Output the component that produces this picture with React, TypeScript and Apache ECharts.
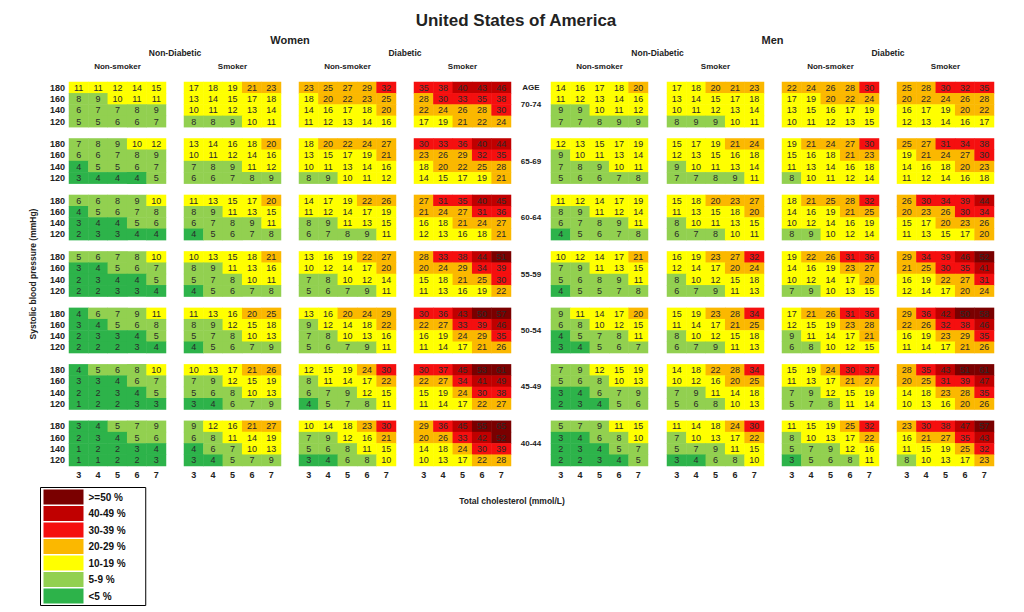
import React, { useEffect, useRef } from "react";
import * as echarts from "echarts";

// Age groups, top to bottom
const ages = ["70-74", "65-69", "60-64", "55-59", "50-54", "45-49", "40-44"];
// Systolic blood pressure rows within each age block (mmHg)
const sbpLevels = [180, 160, 140, 120];
// Total cholesterol columns (mmol/L)
const cholLevels = [3, 4, 5, 6, 7];

// 10-year risk (%) per age block: rows = SBP 180..120, columns = cholesterol 3..7
const womenNonDiabeticNonSmoker = [
  [[11, 11, 12, 14, 15], [8, 9, 10, 11, 11], [6, 7, 7, 8, 9], [5, 5, 6, 6, 7]],
  [[7, 8, 9, 10, 12], [6, 6, 7, 8, 9], [4, 5, 5, 6, 7], [3, 4, 4, 4, 5]],
  [[6, 6, 8, 9, 10], [4, 5, 6, 7, 8], [3, 4, 4, 5, 6], [2, 3, 3, 4, 4]],
  [[5, 6, 7, 8, 10], [3, 4, 5, 6, 7], [2, 3, 4, 4, 5], [2, 2, 3, 3, 4]],
  [[4, 6, 7, 9, 11], [3, 4, 5, 6, 8], [2, 3, 3, 4, 5], [2, 2, 2, 3, 4]],
  [[4, 5, 6, 8, 10], [3, 3, 4, 6, 7], [2, 2, 3, 4, 5], [1, 2, 2, 3, 3]],
  [[3, 4, 5, 7, 9], [2, 3, 4, 5, 6], [1, 2, 2, 3, 4], [1, 1, 2, 2, 3]],
];
const womenNonDiabeticSmoker = [
  [[17, 18, 19, 21, 23], [13, 14, 15, 17, 18], [10, 11, 12, 13, 14], [8, 8, 9, 10, 11]],
  [[13, 14, 16, 18, 20], [10, 11, 12, 14, 16], [7, 8, 9, 11, 12], [6, 6, 7, 8, 9]],
  [[11, 13, 15, 17, 20], [8, 9, 11, 13, 15], [6, 7, 8, 9, 11], [4, 5, 6, 7, 8]],
  [[10, 13, 15, 18, 21], [8, 9, 11, 13, 16], [5, 7, 8, 10, 11], [4, 5, 6, 7, 8]],
  [[11, 13, 16, 20, 25], [8, 9, 12, 15, 18], [5, 7, 8, 10, 13], [4, 5, 6, 7, 9]],
  [[10, 13, 17, 21, 26], [7, 9, 12, 15, 19], [5, 6, 8, 10, 13], [3, 4, 6, 7, 9]],
  [[9, 12, 16, 21, 27], [6, 8, 11, 14, 19], [4, 6, 7, 10, 13], [3, 4, 5, 7, 9]],
];
const womenDiabeticNonSmoker = [
  [[23, 25, 27, 29, 32], [18, 20, 22, 23, 25], [14, 16, 17, 18, 20], [11, 12, 13, 14, 16]],
  [[18, 20, 22, 24, 27], [13, 15, 17, 19, 21], [10, 11, 13, 14, 16], [8, 9, 10, 11, 12]],
  [[14, 17, 19, 22, 26], [11, 12, 14, 17, 19], [8, 9, 11, 13, 15], [6, 7, 8, 9, 11]],
  [[13, 16, 19, 22, 27], [10, 12, 14, 17, 20], [7, 8, 10, 12, 14], [5, 6, 7, 9, 11]],
  [[13, 16, 20, 24, 29], [9, 12, 14, 18, 22], [7, 8, 10, 13, 16], [5, 6, 7, 9, 11]],
  [[12, 15, 19, 24, 30], [8, 11, 14, 17, 22], [6, 7, 9, 12, 15], [4, 5, 7, 8, 11]],
  [[10, 14, 18, 23, 30], [7, 9, 12, 16, 21], [5, 6, 8, 11, 15], [3, 4, 6, 8, 10]],
];
const womenDiabeticSmoker = [
  [[35, 38, 40, 43, 46], [28, 30, 33, 35, 38], [22, 24, 26, 28, 30], [17, 19, 21, 22, 24]],
  [[30, 33, 36, 40, 44], [23, 26, 29, 32, 35], [18, 20, 22, 25, 28], [14, 15, 17, 19, 21]],
  [[27, 31, 35, 40, 45], [21, 24, 27, 31, 36], [16, 18, 21, 24, 27], [12, 13, 16, 18, 21]],
  [[28, 33, 38, 44, 51], [20, 24, 29, 34, 39], [15, 18, 21, 25, 30], [11, 13, 16, 19, 22]],
  [[30, 36, 43, 50, 57], [22, 27, 33, 39, 46], [16, 19, 24, 29, 35], [11, 14, 17, 21, 26]],
  [[30, 37, 45, 53, 61], [22, 27, 34, 41, 49], [15, 19, 24, 30, 38], [11, 14, 17, 22, 27]],
  [[29, 36, 45, 55, 65], [20, 26, 33, 42, 52], [14, 18, 24, 30, 39], [10, 13, 17, 22, 28]],
];
const menNonDiabeticNonSmoker = [
  [[14, 16, 17, 18, 20], [11, 12, 13, 14, 16], [9, 9, 10, 11, 12], [7, 7, 8, 9, 9]],
  [[12, 13, 15, 17, 19], [9, 10, 11, 13, 14], [7, 8, 9, 10, 11], [5, 6, 6, 7, 8]],
  [[11, 12, 14, 17, 19], [8, 9, 11, 12, 14], [6, 7, 8, 9, 11], [4, 5, 6, 7, 8]],
  [[10, 12, 14, 17, 21], [7, 9, 11, 13, 15], [5, 6, 8, 9, 11], [4, 5, 5, 7, 8]],
  [[9, 11, 14, 17, 20], [6, 8, 10, 12, 15], [4, 5, 7, 8, 11], [3, 4, 5, 6, 7]],
  [[7, 9, 12, 15, 19], [5, 6, 8, 10, 13], [3, 4, 6, 7, 9], [2, 3, 4, 5, 6]],
  [[5, 7, 9, 11, 15], [3, 4, 6, 8, 10], [2, 3, 4, 5, 7], [2, 2, 3, 4, 5]],
];
const menNonDiabeticSmoker = [
  [[17, 18, 20, 21, 23], [13, 14, 15, 17, 18], [10, 11, 12, 13, 14], [8, 9, 9, 10, 11]],
  [[15, 17, 19, 21, 24], [12, 13, 15, 16, 18], [9, 10, 11, 13, 14], [7, 7, 8, 9, 11]],
  [[15, 18, 20, 23, 27], [11, 13, 15, 18, 20], [8, 10, 11, 13, 15], [6, 7, 8, 10, 11]],
  [[16, 19, 23, 27, 32], [12, 14, 17, 20, 24], [8, 10, 12, 15, 18], [6, 7, 9, 11, 13]],
  [[15, 19, 23, 28, 34], [11, 14, 17, 21, 25], [8, 10, 12, 15, 18], [6, 7, 9, 11, 13]],
  [[14, 18, 22, 28, 34], [10, 12, 16, 20, 25], [7, 9, 11, 14, 18], [5, 6, 8, 10, 13]],
  [[11, 14, 18, 24, 30], [7, 10, 13, 17, 22], [5, 7, 9, 11, 15], [3, 4, 6, 8, 10]],
];
const menDiabeticNonSmoker = [
  [[22, 24, 26, 28, 30], [17, 19, 20, 22, 24], [13, 15, 16, 17, 19], [10, 11, 12, 13, 15]],
  [[19, 21, 24, 27, 30], [15, 16, 18, 21, 23], [11, 13, 14, 16, 18], [8, 10, 11, 12, 14]],
  [[18, 21, 25, 28, 32], [14, 16, 19, 21, 25], [10, 12, 14, 16, 19], [8, 9, 10, 12, 14]],
  [[19, 22, 26, 31, 36], [14, 16, 19, 23, 27], [10, 12, 14, 17, 20], [7, 9, 10, 13, 15]],
  [[17, 21, 26, 31, 36], [12, 15, 19, 23, 28], [9, 11, 14, 17, 21], [6, 8, 10, 12, 15]],
  [[15, 19, 24, 30, 37], [11, 13, 17, 21, 27], [7, 9, 12, 15, 19], [5, 7, 8, 11, 14]],
  [[11, 15, 19, 25, 32], [8, 10, 13, 17, 22], [5, 7, 9, 12, 16], [3, 5, 6, 8, 11]],
];
const menDiabeticSmoker = [
  [[25, 28, 30, 32, 35], [20, 22, 24, 26, 28], [16, 17, 19, 20, 22], [12, 13, 14, 16, 17]],
  [[25, 27, 31, 34, 38], [19, 21, 24, 27, 30], [14, 16, 18, 20, 23], [11, 12, 14, 16, 18]],
  [[26, 30, 34, 39, 44], [20, 23, 26, 30, 34], [15, 17, 20, 23, 26], [11, 13, 15, 17, 20]],
  [[29, 34, 39, 46, 52], [21, 25, 30, 35, 41], [16, 19, 22, 27, 31], [12, 14, 17, 20, 24]],
  [[29, 36, 42, 50, 58], [22, 26, 32, 38, 46], [16, 19, 23, 29, 35], [11, 14, 17, 21, 26]],
  [[28, 35, 43, 51, 61], [20, 25, 31, 39, 47], [14, 18, 23, 28, 35], [10, 13, 16, 20, 26]],
  [[23, 30, 38, 47, 57], [16, 21, 27, 35, 43], [11, 15, 19, 25, 32], [8, 10, 13, 17, 23]],
];

const panelValues = [
  womenNonDiabeticNonSmoker,
  womenNonDiabeticSmoker,
  womenDiabeticNonSmoker,
  womenDiabeticSmoker,
  menNonDiabeticNonSmoker,
  menNonDiabeticSmoker,
  menDiabeticNonSmoker,
  menDiabeticSmoker,
];
const smokingLabels = ["Non-smoker", "Smoker", "Non-smoker", "Smoker", "Non-smoker", "Smoker", "Non-smoker", "Smoker"];
const diabetesLabels = ["Non-Diabetic", "Diabetic", "Non-Diabetic", "Diabetic"];
const sexLabels = ["Women", "Men"];

// Risk bands (legend order, top to bottom)
const riskBands = [
  { gte: 50, label: ">=50 %", color: "#7a0000" },
  { gte: 40, lt: 50, label: "40-49 %", color: "#c00000" },
  { gte: 30, lt: 40, label: "30-39 %", color: "#f50f0f" },
  { gte: 20, lt: 30, label: "20-29 %", color: "#fbb800" },
  { gte: 10, lt: 20, label: "10-19 %", color: "#ffff00" },
  { gte: 5, lt: 10, label: "5-9 %", color: "#92d050" },
  { lt: 5, label: "<5 %", color: "#2db34a" },
];

// Layout
const FONT = "Liberation Sans";
const panelLefts = [69, 184, 299, 414, 551, 667, 782, 897];
const panelWidth = 97;
const gridTop = 82;
const gridHeight = 384;
const rowsPerBlock = 5; // four SBP rows plus one spacer row

function buildRowCategories() {
  const cats: string[] = [];
  const labels: string[] = [];
  ages.forEach((age, a) => {
    sbpLevels.forEach((s) => {
      cats.push(`${age}|${s}`);
      labels.push(String(s));
    });
    if (a < ages.length - 1) {
      cats.push(`${age}|gap`);
      labels.push("");
    }
  });
  return { cats, labels };
}

export default function App() {
  const ref = useRef<HTMLDivElement>(null);

  useEffect(() => {
    if (!ref.current) return;
    const chart = echarts.init(ref.current, null, { renderer: "svg" });
    const { cats, labels } = buildRowCategories();
    const rowH = gridHeight / cats.length;

    const grids = panelLefts.map((left) => ({
      left,
      top: gridTop,
      width: panelWidth,
      height: gridHeight,
      containLabel: false,
    }));

    const xAxes = panelLefts.map((_, i) => ({
      type: "category",
      gridIndex: i,
      data: cholLevels.map(String),
      position: "bottom",
      axisLine: { show: false },
      axisTick: { show: false },
      splitLine: { show: false },
      axisLabel: { fontFamily: FONT, fontSize: 9, fontWeight: "bold", color: "#222", margin: 4 },
    }));

    const yAxes = panelLefts.map((_, i) => ({
      type: "category",
      gridIndex: i,
      data: cats,
      inverse: true,
      axisLine: { show: false },
      axisTick: { show: false },
      splitLine: { show: false },
      axisLabel: {
        show: i === 0,
        interval: 0,
        fontFamily: FONT,
        fontSize: 9,
        fontWeight: "bold",
        color: "#222",
        margin: 4,
        formatter: (_v: string, idx: number) => labels[idx],
      },
    }));

    const series = panelValues.map((blocks, i) => {
      const data: number[][] = [];
      blocks.forEach((rows, a) => {
        rows.forEach((row, r) => {
          row.forEach((v, c) => {
            data.push([c, a * rowsPerBlock + r, v]);
          });
        });
      });
      return {
        type: "heatmap",
        xAxisIndex: i,
        yAxisIndex: i,
        data,
        label: { show: true, fontFamily: FONT, fontSize: 9, color: "#2a2a2a" },
        itemStyle: { borderWidth: 0 },
        emphasis: { disabled: true },
      };
    });

    const texts: any[] = [];
    const centerOf = (i: number) => panelLefts[i] + panelWidth / 2;
    texts.push({
      type: "text",
      x: 516,
      y: 20,
      style: {
        text: "United States of America",
        fontFamily: FONT,
        fontSize: 17,
        fontWeight: "bold",
        fill: "#222",
        align: "center",
        verticalAlign: "middle",
      },
    });
    sexLabels.forEach((s, k) => {
      const x = (centerOf(k * 4) + centerOf(k * 4 + 3)) / 2;
      texts.push({
        type: "text",
        x,
        y: 40,
        style: { text: s, fontFamily: FONT, fontSize: 11, fontWeight: "bold", fill: "#222", align: "center", verticalAlign: "middle" },
      });
    });
    diabetesLabels.forEach((d, k) => {
      const x = (centerOf(k * 2) + centerOf(k * 2 + 1)) / 2;
      texts.push({
        type: "text",
        x,
        y: 53,
        style: { text: d, fontFamily: FONT, fontSize: 8.5, fontWeight: "bold", fill: "#222", align: "center", verticalAlign: "middle" },
      });
    });
    smokingLabels.forEach((s, i) => {
      texts.push({
        type: "text",
        x: centerOf(i),
        y: 66,
        style: { text: s, fontFamily: FONT, fontSize: 8, fontWeight: "bold", fill: "#222", align: "center", verticalAlign: "middle" },
      });
    });
    const ageX = (panelLefts[3] + panelWidth + panelLefts[4]) / 2;
    texts.push({
      type: "text",
      x: ageX,
      y: 87,
      style: { text: "AGE", fontFamily: FONT, fontSize: 8, fontWeight: "bold", fill: "#222", align: "center", verticalAlign: "middle" },
    });
    ages.forEach((age, a) => {
      texts.push({
        type: "text",
        x: ageX,
        y: gridTop + (a * rowsPerBlock + 2) * rowH,
        style: { text: age, fontFamily: FONT, fontSize: 8, fontWeight: "bold", fill: "#222", align: "center", verticalAlign: "middle" },
      });
    });
    texts.push({
      type: "text",
      x: 33,
      y: gridTop + gridHeight / 2,
      rotation: Math.PI / 2,
      style: {
        text: "Systolic blood pressure (mmHg)",
        fontFamily: FONT,
        fontSize: 8.5,
        fontWeight: "bold",
        fill: "#222",
        align: "center",
        verticalAlign: "middle",
      },
    });
    texts.push({
      type: "text",
      x: 512,
      y: 501,
      style: {
        text: "Total cholesterol (mmol/L)",
        fontFamily: FONT,
        fontSize: 8.5,
        fontWeight: "bold",
        fill: "#222",
        align: "center",
        verticalAlign: "middle",
      },
    });

    chart.setOption({
      animation: false,
      backgroundColor: "#ffffff",
      grid: grids,
      xAxis: xAxes,
      yAxis: yAxes,
      visualMap: {
        type: "piecewise",
        seriesIndex: panelValues.map((_, i) => i),
        dimension: 2,
        orient: "vertical",
        left: 40,
        top: 487,
        itemWidth: 40,
        itemHeight: 15,
        itemGap: 1.5,
        itemSymbol: "rect",
        selectedMode: false,
        hoverLink: false,
        showLabel: true,
        textGap: 5,
        padding: [2, 20, 2, 3],
        borderColor: "#000",
        borderWidth: 1,
        textStyle: { fontFamily: FONT, fontSize: 10, fontWeight: "bold", color: "#111" },
        pieces: riskBands.map((b) => ({ ...b })),
      },
      series,
      graphic: texts,
    });

    return () => chart.dispose();
  }, []);

  return (
    <div
      ref={ref}
      style={{ position: "fixed", left: 0, top: 0, width: 1024, height: 612, background: "#fff" }}
    />
  );
}
